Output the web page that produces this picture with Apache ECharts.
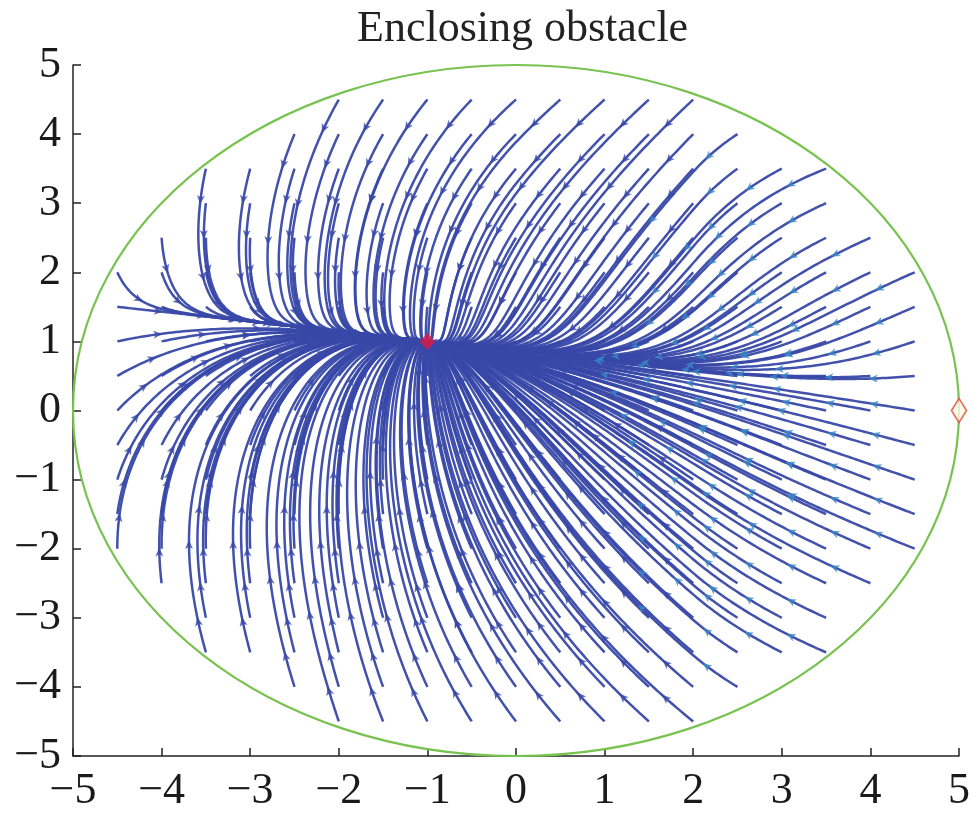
<!DOCTYPE html>
<html>
<head>
<meta charset="utf-8">
<script src="https://cdn.jsdelivr.net/npm/echarts@6/dist/echarts.min.js"></script>
<style>
html,body{margin:0;padding:0;background:#fff;}
#chart{width:973px;height:813px;}
</style>
</head>
<body>
<div id="chart"></div>
<script>
// ---------------- data ----------------
const TITLE = 'Enclosing obstacle';
const X_TICKS = [-5, -4, -3, -2, -1, 0, 1, 2, 3, 4, 5];
const Y_TICKS = [-5, -4, -3, -2, -1, 0, 1, 2, 3, 4, 5];
// goal point (red marker) and the hollow diamond on the obstacle
const GOAL = [-1, 1];
const DIAMOND = [5, 0];
// enclosing obstacle (green circle)
const OBSTACLE_CENTER = [0, 0];
const OBSTACLE_RADIUS = 5;
// start points of the streamlines: rows of a 0.5 grid inside the obstacle
const ROW_Y      = [4.5, 4, 3.5, 3, 2.5, 2, 1.5, 1, 0.5, 0, -0.5, -1, -1.5, -2, -2.5, -3, -3.5, -4, -4.5];
const ROW_X_FROM = [-2, -2.5, -3.5, -3.5, -4, -4.5, -4.5, -4.5, -4.5, -4.5, -4.5, -4.5, -4.5, -4.5, -4, -3.5, -3.5, -2.5, -2];
const ROW_X_TO   = [ 2,  2.5,  3.5,  3.5,  4,  4.5,  4.5,  4.5,  4.5,  4.5,  4.5,  4.5,  4.5,  4.5,  4,  3.5,  3.5,  2.5,  2];
const GRID_STEP = 0.5;
// arc-length positions (from the start) of the small arrows on each streamline
const ARROW_AT = [0.5, 1.6];

// flow model constants (shape of the streamlines)
const SPINE_SLOPE = -0.145;       // attracting band through the goal
const RATE_LEFT_TOP = 0.06;       // approach along the band, left of goal, from above
const RATE_LEFT_BOTTOM = 0.35;    // same, from below
const RATE_RIGHT_TOP = 0.2;       // approach along the band, right of goal, from above
const RATE_RIGHT_BOTTOM = 0.6;    // same, from below
const RATE_NORMAL = 1.0;          // approach towards the band
const WIND_X      = [-4.5, -2.0, -1.5, 0.0, 2.0, 3.5, 4.5];
const WIND_TOP    = [0.10, 0.13, 0.15, 0.20, 0.15, 0.40, 0.45];
const WIND_BOTTOM = [0.10, 0.06, 0.065, 0.10, 0.15, 0.45, 0.55];

// ---------------- streamline tracing ----------------
function interp(xs, ys, x) {
  if (x <= xs[0]) return ys[0];
  for (let i = 1; i < xs.length; i++) {
    if (x <= xs[i]) {
      const t = (x - xs[i - 1]) / (xs[i] - xs[i - 1]);
      return ys[i - 1] + t * (ys[i] - ys[i - 1]);
    }
  }
  return ys[ys.length - 1];
}
function velocity(x, y) {
  const rx = x - GOAL[0], ry = y - GOAL[1];
  const w = ry - SPINE_SLOPE * rx;
  const s = 1 / (1 + Math.exp(-3 * rx));
  const aL = w > 0 ? RATE_LEFT_TOP : RATE_LEFT_BOTTOM;
  const aR = w > 0 ? RATE_RIGHT_TOP : RATE_RIGHT_BOTTOM;
  const a = aL + (aR - aL) * s;
  const c = interp(WIND_X, w > 0 ? WIND_TOP : WIND_BOTTOM, x);
  const vx = -a * rx - c * w * w;
  const vw = -RATE_NORMAL * w;
  const vy = vw + SPINE_SLOPE * vx;
  return [vx, vy];
}
function unitDir(x, y) {
  const v = velocity(x, y);
  const n = Math.hypot(v[0], v[1]) || 1e-12;
  return [v[0] / n, v[1] / n];
}
function trace(x0, y0) {
  const pts = [[x0, y0]];
  let x = x0, y = y0;
  const h = 0.02;
  for (let i = 0; i < 4000; i++) {
    if (Math.hypot(x - GOAL[0], y - GOAL[1]) < 0.03) break;
    const k1 = unitDir(x, y);
    const k2 = unitDir(x + h / 2 * k1[0], y + h / 2 * k1[1]);
    const k3 = unitDir(x + h / 2 * k2[0], y + h / 2 * k2[1]);
    const k4 = unitDir(x + h * k3[0], y + h * k3[1]);
    x += h / 6 * (k1[0] + 2 * k2[0] + 2 * k3[0] + k4[0]);
    y += h / 6 * (k1[1] + 2 * k2[1] + 2 * k3[1] + k4[1]);
    if (i % 2 === 1) pts.push([x, y]);
  }
  pts.push([GOAL[0], GOAL[1]]);
  return pts;
}
const streamData = [];
ROW_Y.forEach((y, r) => {
  for (let x = ROW_X_FROM[r]; x <= ROW_X_TO[r] + 1e-9; x += GRID_STEP) {
    if (Math.abs(x - GOAL[0]) < 1e-9 && Math.abs(y - GOAL[1]) < 1e-9) continue;
    streamData.push({ coords: trace(x, y) });
  }
});

// ---------------- chart ----------------
const chart = echarts.init(document.getElementById('chart'), null, { renderer: 'canvas' });
const SERIF = 'Liberation Serif, Times New Roman, serif';
const fmt = v => (v < 0 ? '\u2212' + Math.abs(v) : String(v));
const axisCommon = {
  type: 'value', min: -5, max: 5, interval: 1,
  axisLine: { show: true, onZero: false, lineStyle: { color: '#222', width: 1.5 } },
  axisTick: { show: true, inside: true, length: 8, lineStyle: { color: '#222', width: 1.5 } },
  splitLine: { show: false },
  axisLabel: { fontFamily: SERIF, fontSize: 44, color: '#1a1a1a', formatter: fmt }
};
const LINE_COLOR = '#3848a8';
const baseOption = {
  animation: false,
  backgroundColor: '#ffffff',
  title: {
    text: TITLE, left: 357, top: 7, padding: 0,
    textStyle: { fontFamily: SERIF, fontSize: 44, fontWeight: 'normal', color: '#222' }
  },
  grid: { left: 73, right: 11, top: 65, bottom: 46, containLabel: false },
  xAxis: Object.assign({}, axisCommon, { axisLabel: Object.assign({}, axisCommon.axisLabel, { margin: 13 }) }),
  yAxis: Object.assign({}, axisCommon, { axisLabel: Object.assign({}, axisCommon.axisLabel, { margin: 12 }) }),
  series: [
    {
      id: 'streams', type: 'lines', coordinateSystem: 'cartesian2d', polyline: true, silent: true,
      lineStyle: { color: LINE_COLOR, width: 2.5, opacity: 0.95 },
      data: streamData, z: 2
    },
    {
      id: 'arrows', type: 'scatter', silent: true, z: 3, symbol: 'arrow',
      symbolSize: [6, 9], itemStyle: { color: LINE_COLOR }, data: []
    },
    {
      id: 'obstacle', type: 'custom', coordinateSystem: 'cartesian2d', silent: true, z: 4,
      data: [[OBSTACLE_CENTER[0], OBSTACLE_CENTER[1], OBSTACLE_RADIUS]],
      renderItem: function (params, api) {
        const c = api.coord([api.value(0), api.value(1)]);
        const s = api.size([api.value(2), api.value(2)]);
        return {
          type: 'ellipse',
          shape: { cx: c[0], cy: c[1], rx: s[0], ry: s[1] },
          style: { fill: 'none', stroke: '#78c250', lineWidth: 2.2 }
        };
      }
    },
    {
      id: 'goal', type: 'scatter', silent: true, z: 5,
      data: [GOAL], symbol: 'diamond', symbolSize: [15, 17],
      itemStyle: { color: '#e2173f' }
    },
    {
      id: 'diamond', type: 'scatter', silent: true, z: 5,
      data: [DIAMOND], symbol: 'diamond', symbolSize: [15, 24],
      itemStyle: { color: '#fff7ea', borderColor: '#e04a2e', borderWidth: 1.8 }
    }
  ]
};
chart.setOption(baseOption);

// arrows: place along each traced streamline, rotated to the on-screen direction
const arrowData = [];
streamData.forEach(d => {
  const pts = d.coords;
  const teal = pts[0][0] >= 2.5;
  let acc = 0, k = 0;
  for (let i = 1; i < pts.length - 1 && k < ARROW_AT.length; i++) {
    acc += Math.hypot(pts[i][0] - pts[i - 1][0], pts[i][1] - pts[i - 1][1]);
    if (acc >= ARROW_AT[k]) {
      const p0 = chart.convertToPixel({ gridIndex: 0 }, pts[i - 1]);
      const p1 = chart.convertToPixel({ gridIndex: 0 }, pts[i + 1]);
      const dx = p1[0] - p0[0], dy = p1[1] - p0[1];
      const rot = Math.atan2(-dx, -dy) * 180 / Math.PI;
      const item = { value: pts[i], symbolRotate: rot };
      if (teal) item.itemStyle = { color: '#3a86c6' };
      arrowData.push(item);
      k++;
    }
  }
});
chart.setOption({ series: [{ id: 'arrows', data: arrowData }] });
</script>
</body>
</html>
